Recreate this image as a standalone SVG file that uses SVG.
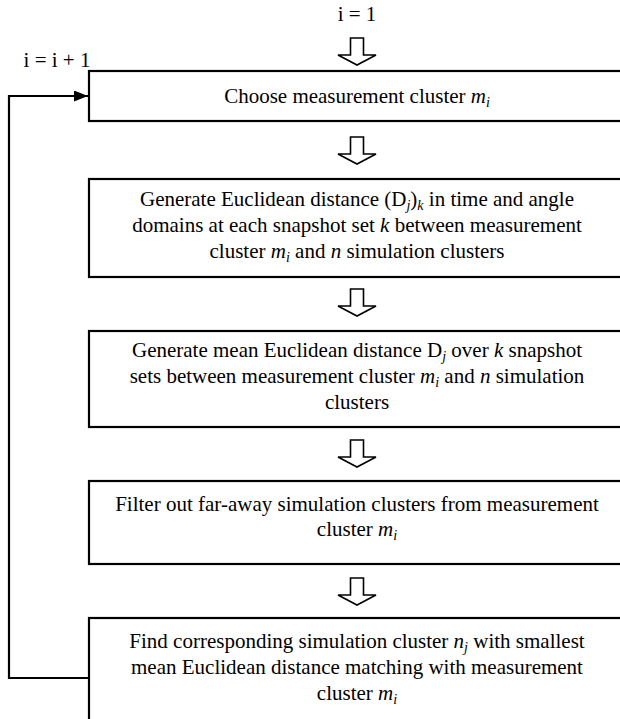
<svg xmlns="http://www.w3.org/2000/svg" width="620" height="719" viewBox="0 0 620 719">
<defs>
<style>
.box{fill:#fff;stroke:#000;stroke-width:2.2}
.t{font-family:"Liberation Serif","Times New Roman",serif;font-size:21px;fill:#000;text-anchor:middle}
.it{font-style:italic}
.sub{font-size:14px}
.blk{fill:#fff;stroke:#000;stroke-width:1.6;stroke-linejoin:miter}
.ln{fill:none;stroke:#000;stroke-width:2.2}
</style>
<marker id="ah" viewBox="0 0 14 11" refX="14" refY="5.5" markerWidth="14" markerHeight="11" orient="auto" markerUnits="userSpaceOnUse">
<path d="M0,0 L14,5.5 L0,11 Z" fill="#000"/>
</marker>
<path id="barrow" d="M-6.5,0 H6.5 V17 H19 L0,27 L-19,17 H-6.5 Z"/>
</defs>
<rect width="620" height="719" fill="#fff"/>
<text class="t" x="357" y="21">i = 1</text>
<text class="t" x="57" y="67">i = i + 1</text>
<g id="connectors">
<use href="#barrow" class="blk" x="357" y="38"/>
<use href="#barrow" class="blk" x="357" y="137"/>
<use href="#barrow" class="blk" x="357" y="289"/>
<use href="#barrow" class="blk" x="357" y="440"/>
<use href="#barrow" class="blk" x="357" y="578"/>
<path class="ln" d="M89,678 H9 V96 H88" marker-end="url(#ah)"/>
</g>
<g id="n1">
<rect class="box" x="89" y="71" width="540" height="50"/>
<text class="t" x="357" y="103">Choose measurement cluster <tspan class="it">m</tspan><tspan class="it sub" dy="4">i</tspan></text>
</g>
<g id="n2">
<rect class="box" x="89" y="179" width="540" height="98"/>
<text class="t" x="357" y="206">Generate Euclidean distance (D<tspan class="it sub" dy="4">j</tspan><tspan dy="-4">)</tspan><tspan class="it sub" dy="4">k</tspan><tspan dy="-4"> in time and angle</tspan></text>
<text class="t" x="357" y="232">domains at each snapshot set <tspan class="it">k</tspan> between measurement</text>
<text class="t" x="357" y="258">cluster <tspan class="it">m</tspan><tspan class="it sub" dy="4">i</tspan><tspan dy="-4"> and </tspan><tspan class="it">n</tspan> simulation clusters</text>
</g>
<g id="n3">
<rect class="box" x="89" y="331" width="540" height="96"/>
<text class="t" x="357" y="357">Generate mean Euclidean distance D<tspan class="it sub" dy="4">j</tspan><tspan dy="-4"> over </tspan><tspan class="it">k</tspan> snapshot</text>
<text class="t" x="357" y="383">sets between measurement cluster <tspan class="it">m</tspan><tspan class="it sub" dy="4">i</tspan><tspan dy="-4"> and </tspan><tspan class="it">n</tspan> simulation</text>
<text class="t" x="357" y="409">clusters</text>
</g>
<g id="n4">
<rect class="box" x="89" y="481" width="540" height="83"/>
<text class="t" x="357" y="511">Filter out far-away simulation clusters from measurement</text>
<text class="t" x="357" y="536">cluster <tspan class="it">m</tspan><tspan class="it sub" dy="4">i</tspan></text>
</g>
<g id="n5">
<rect class="box" x="89" y="618" width="540" height="110"/>
<text class="t" x="357" y="648">Find corresponding simulation cluster <tspan class="it">n</tspan><tspan class="it sub" dy="4">j</tspan><tspan dy="-4"> with smallest</tspan></text>
<text class="t" x="357" y="674">mean Euclidean distance matching with measurement</text>
<text class="t" x="357" y="700">cluster <tspan class="it">m</tspan><tspan class="it sub" dy="4">i</tspan></text>
</g>
</svg>
